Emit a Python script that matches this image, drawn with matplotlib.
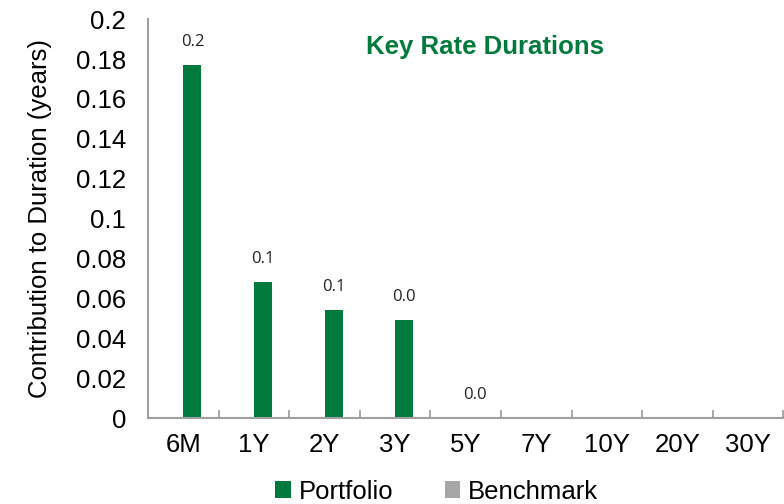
import numpy as np
import matplotlib
matplotlib.use("Agg")
import matplotlib.pyplot as plt

# Key rate duration contributions (years)
tenors = ["6M", "1Y", "2Y", "3Y", "5Y", "7Y", "10Y", "20Y", "30Y"]
portfolio = [0.177, 0.068, 0.054, 0.049, 0.0, np.nan, np.nan, np.nan, np.nan]
benchmark = [0, 0, 0, 0, 0, 0, 0, 0, 0]
portfolio_labels = ["0.2", "0.1", "0.1", "0.0", "0.0", "", "", "", ""]
yticks = [0, 0.02, 0.04, 0.06, 0.08, 0.1, 0.12, 0.14, 0.16, 0.18, 0.2]
ytick_labels = ["0", "0.02", "0.04", "0.06", "0.08", "0.1", "0.12", "0.14", "0.16", "0.18", "0.2"]

green = "#007A3D"
grey = "#A6A6A6"
plt.rcParams["font.family"] = ["Liberation Sans", "DejaVu Sans"]

fig = plt.figure(figsize=(7.84, 5.04), dpi=100)
ax = fig.add_axes([0.189, 0.1706, 0.81, 0.7914])

x = np.arange(len(tenors))
w = 0.255
ax.bar(x - w / 2, benchmark, w, color=grey, label="Benchmark")
ax.bar(x + w / 2, np.nan_to_num(portfolio), w, color=green, label="Portfolio")

for xi, val, lab in zip(x, portfolio, portfolio_labels):
    if lab:
        ax.annotate(lab, (xi + w / 2, val), xytext=(0, 11), textcoords="offset points",
                    ha="center", va="bottom", fontsize=12, family="Open Sans", color="#222222")

ax.set_xlim(-0.5, len(tenors) - 0.5)
ax.set_ylim(0, 0.2)
ax.set_yticks(yticks)
ax.set_yticklabels(ytick_labels)
ax.set_xticks(x)
ax.set_xticklabels(tenors)
ax.set_xticks(np.arange(-0.5, len(tenors), 1), minor=True)
ax.tick_params(axis="x", which="major", length=0, pad=11, labelsize=18.5)
ax.tick_params(axis="x", which="minor", direction="in", length=6, color="#999999", width=1.2)
ax.tick_params(axis="y", length=0, pad=16, labelsize=18.5)

for s in ["top", "right"]:
    ax.spines[s].set_visible(False)
for s in ["left", "bottom"]:
    ax.spines[s].set_color("#A0A0A0")
    ax.spines[s].set_linewidth(1.5)

ax.set_ylabel("Contribution to Duration (years)", fontsize=18.5, labelpad=17)
ax.text(0.53, 0.93, "Key Rate Durations", transform=ax.transAxes, ha="center", va="center",
        fontsize=18.5, fontweight="bold", color=green)

handles, labels = ax.get_legend_handles_labels()
fig.legend(handles[::-1], labels[::-1], loc="lower center", bbox_to_anchor=(0.557, -0.045),
           ncol=2, frameon=False, fontsize=18.5, handlelength=0.6, handleheight=0.6,
           handletextpad=0.3, columnspacing=2.0)

plt.savefig("out.png", dpi=100)
